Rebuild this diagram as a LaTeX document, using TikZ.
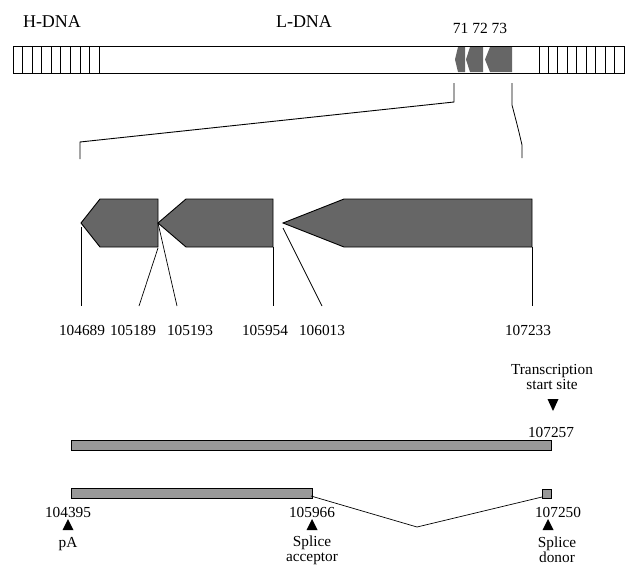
\documentclass[tikz,border=0pt]{standalone}
\usepackage{fontspec}
\setmainfont{Liberation Serif}
\begin{document}
\begin{tikzpicture}[x=1pt,y=-1pt,
  lbl/.style={inner sep=0pt,font=\fontsize{15.3}{15.3}\selectfont},
  big/.style={inner sep=0pt,font=\fontsize{18}{18}\selectfont},
  gene/.style={draw=black,line width=0.9pt,fill=black!60},
  bar/.style={draw=black,line width=0.8pt,fill=black!40},
  thin/.style={line width=0.7pt},
  tri/.style={fill=black}]
\useasboundingbox (0,0) rectangle (626,565);
% ---- top genome bar
\draw[line width=0.9pt] (13,46) rectangle (624,73);
\foreach \i in {1,...,8} \draw[line width=0.8pt] ({13+\i*9.56},46) -- ({13+\i*9.56},73);
\draw[line width=0.8pt] (99,46) -- (99,73);
\foreach \i in {0,...,8} \draw[line width=0.8pt] ({539+\i*9.44},46) -- ({539+\i*9.44},73);
\node[big] (hdna) at (52,22) {H-DNA};
\node[big] (ldna) at (304,22) {L-DNA};
\node[lbl,font=\fontsize{15.5}{15.5}\selectfont] (g7173) at (480,28) {71 72 73};
% small genes in the bar
\fill[black!60] (465,47) -- (458,47) -- (455,59.5) -- (458,72) -- (465,72) -- cycle;
\fill[black!60] (483,47) -- (470,47) -- (466,59.5) -- (470,72) -- (483,72) -- cycle;
\fill[black!60] (512,47) -- (490,47) -- (485,59.5) -- (490,72) -- (512,72) -- cycle;
% ---- expansion lines
\coordinate (eL1) at (454,83); \coordinate (eL2) at (454,102);
\coordinate (eL3) at (80,142); \coordinate (eL4) at (80,159);
\coordinate (eR1) at (512,83); \coordinate (eR2) at (512,105);
\coordinate (eR3) at (522,145); \coordinate (eR4) at (522,158);
\draw[line width=0.9pt] (eL1) -- (eL2) -- (eL3) -- (eL4);
\draw[line width=0.8pt] (eR1) -- (eR2) .. controls (518,128) .. (eR3) -- (eR4);
% ---- enlarged genes
\coordinate (a1tip) at (81,223);  \coordinate (a1r) at (158,223);
\coordinate (a2tip) at (158,223); \coordinate (a2r) at (273,223);
\coordinate (a3tip) at (283,223); \coordinate (a3r) at (532,223);
\draw[gene] (158,199) -- (100,199) -- (a1tip) -- (100,247) -- (158,247) -- cycle;
\draw[gene] (273,199) -- (186,199) -- (a2tip) -- (186,247) -- (273,247) -- cycle;
\draw[gene] (532,199) -- (344,199) -- (a3tip) -- (344,247) -- (532,247) -- cycle;
% position labels
\node[lbl] (p1) at (82,330) {104689};
\node[lbl] (p2) at (133,330) {105189};
\node[lbl] (p3) at (190,330) {105193};
\node[lbl] (p4) at (265,330) {105954};
\node[lbl] (p5) at (322,330) {106013};
\node[lbl] (p6) at (528,330) {107233};
\draw[thin] (81,227) -- (81,306);
\draw[thin] (158,248) -- (139,306);
\draw[thin] (a2tip) -- (177,306);
\draw[thin] (273,247) -- (273,306);
\draw[thin] (283,228) -- (322,306);
\draw[thin] (532,247) -- (532,306);
% ---- transcripts
\node[lbl,align=center] (tss) at (552,377) {Transcription\\[-0.5pt]start site};
\fill[tri] (547.5,399) -- (558.5,399) -- (553,411) -- cycle;
\node[lbl] (n107257) at (551,432) {107257};
\draw[bar] (71,440) rectangle (551,450);
\draw[bar] (71,488) rectangle (312,498);
\draw[bar] (542,489) rectangle (551,498);
\coordinate (sp1) at (311,496);
\coordinate (sp2) at (417,527);
\coordinate (sp3) at (542,497);
\draw[thin] (sp1) -- (sp2) -- (sp3);
\node[lbl] (n104395) at (68,512) {104395};
\node[lbl] (n105966) at (312,512) {105966};
\node[lbl] (n107250) at (558,512) {107250};
\fill[tri] (68,519) -- (73.5,530) -- (62.5,530) -- cycle;
\fill[tri] (312,519) -- (317.5,530) -- (306.5,530) -- cycle;
\fill[tri] (548,519) -- (553.5,530) -- (542.5,530) -- cycle;
\node[lbl] (pa) at (68,544) {pA};
\node[lbl,align=center] (acc) at (312,550) {Splice\\[-0.5pt]acceptor};
\node[lbl,align=center] (don) at (557,550) {Splice\\[-0.5pt]donor};
\end{tikzpicture}
\end{document}
